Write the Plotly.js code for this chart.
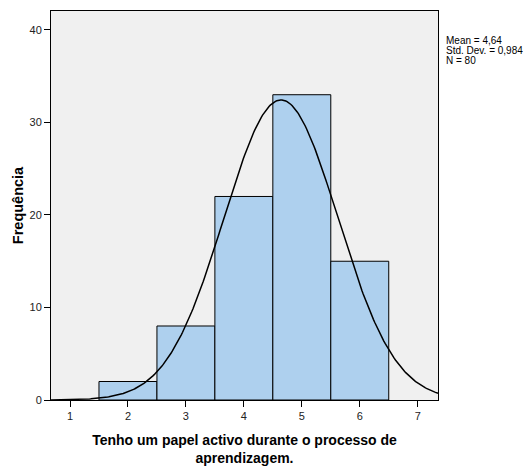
<!DOCTYPE html>
<html><head><meta charset="utf-8">
<script src="https://cdn.plot.ly/plotly-3.0.1.min.js"></script>
<style>body{margin:0;padding:0;background:#fff}#chart{width:525px;height:466px}</style>
</head><body><div id="chart"></div>
<script>
const categories = [2, 3, 4, 5, 6];
const frequencies = [2, 8, 22, 33, 15];
const xTicks = [1, 2, 3, 4, 5, 6, 7];
const yTicks = [0, 10, 20, 30, 40];
const statMean = 4.64;
const statSD = 0.984;
const statN = 80;
const binWidth = 1;
const statLabels = ['Mean = 4,64', 'Std. Dev. = 0,984', 'N = 80'];

// Fitted normal curve defined by the stated Mean, Std. Dev. and N
const curveX = [];
const curveY = [];
for (let i = 0; i <= 300; i++) {
  const x = 0.672 + (7.35 - 0.672) * i / 300;
  curveX.push(x);
  curveY.push(statN * binWidth / (statSD * Math.sqrt(2 * Math.PI)) * Math.exp(-0.5 * Math.pow((x - statMean) / statSD, 2)));
}

const font = 'Liberation Sans, Arial, sans-serif';
const data = [
  {type: 'bar', x: categories, y: frequencies, width: 1,
   marker: {color: '#aed0ee', line: {color: '#000', width: 1}}, hoverinfo: 'skip'},
  {type: 'scatter', mode: 'lines', x: curveX, y: curveY,
   line: {color: '#000', width: 1.5}, hoverinfo: 'skip'}
];
const statY = [0.924, 0.898, 0.873];
const layout = {
  width: 525, height: 466,
  margin: {l: 51, r: 87, t: 11, b: 66},
  paper_bgcolor: '#fff', plot_bgcolor: '#f0f0f0',
  showlegend: false,
  font: {family: font, color: '#222'},
  xaxis: {range: [0.672, 7.35], tickvals: xTicks, ticktext: xTicks.map(String),
    ticks: 'outside', ticklen: 6, tickcolor: '#000', showgrid: false, zeroline: false,
    showline: true, linecolor: '#000', linewidth: 1, mirror: true,
    tickfont: {size: 11, family: font, color: '#222'},
    title: {text: '<b>Tenho um papel activo durante o processo de<br>aprendizagem.</b>',
      font: {size: 14, family: font, color: '#000'}, standoff: 14}},
  yaxis: {range: [0, 42.05], tickvals: yTicks, ticktext: yTicks.map(String),
    ticks: 'outside', ticklen: 6, tickcolor: '#000', showgrid: false, zeroline: false,
    showline: true, linecolor: '#000', linewidth: 1, mirror: true,
    tickfont: {size: 11, family: font, color: '#222'},
    title: {text: '<b>Frequência</b>', font: {size: 14.5, family: font, color: '#000'}, standoff: 2}},
  annotations: statLabels.map((t, i) => ({
    xref: 'paper', yref: 'paper', x: 1.015, y: statY[i], xanchor: 'left', yanchor: 'middle',
    align: 'left', showarrow: false, text: t,
    font: {size: 10, family: font, color: '#000'}
  }))
};
Plotly.newPlot('chart', data, layout, {displayModeBar: false, staticPlot: true});
</script></body></html>
